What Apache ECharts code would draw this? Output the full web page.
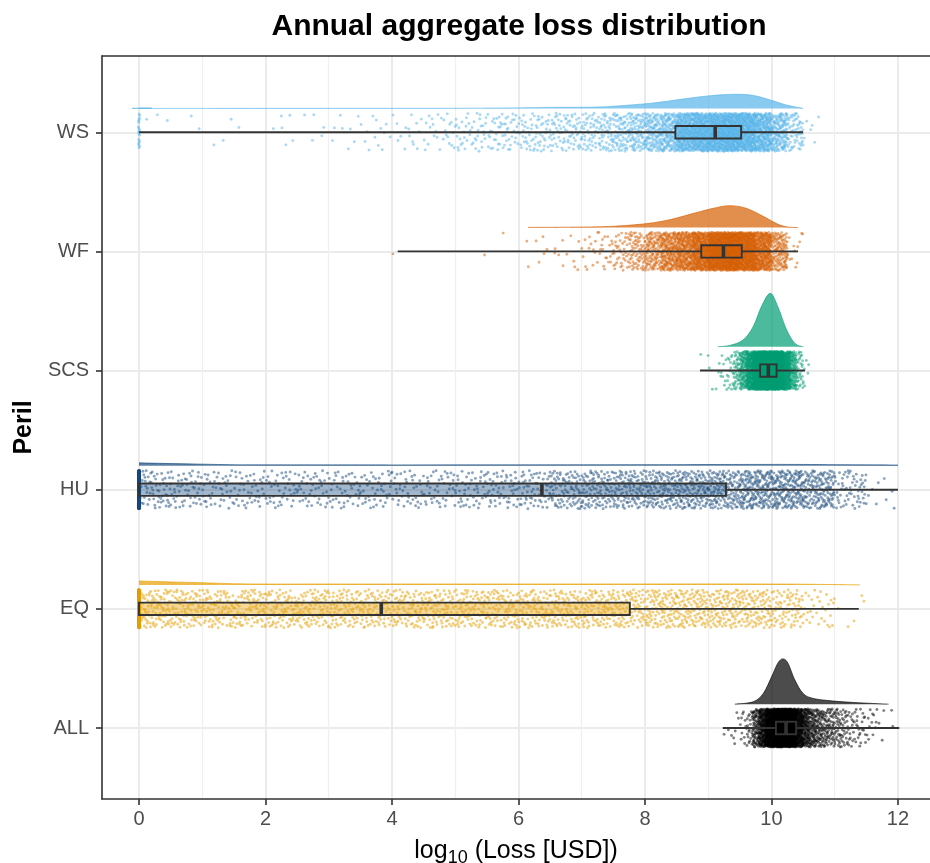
<!DOCTYPE html>
<html>
<head>
<meta charset="utf-8">
<script src="https://cdn.jsdelivr.net/npm/echarts@6/dist/echarts.min.js"></script>
<style>
  html, body { margin: 0; padding: 0; background: #ffffff; }
  #chart { width: 930px; height: 863px; }
</style>
</head>
<body>
<div id="chart"></div>
<script>
// Perils, bottom to top on the y axis
const perils = ['ALL', 'EQ', 'HU', 'SCS', 'WF', 'WS'];
const perilColors = ['#000000', '#E69F00', '#174A7C', '#009E73', '#D55E00', '#56B4E9'];

// x axis ticks (log10 USD)
const xTicks = [0, 2, 4, 6, 8, 10, 12];
const xMinorTicks = [1, 3, 5, 7, 9, 11];

// Box plot summaries per peril (log10 USD)
const boxMin = [9.23, 0, 0, 8.87, 4.09, 0];
const boxQ1 = [10.07, 0, 0, 9.82, 8.89, 8.48];
const boxMedian = [10.23, 3.83, 6.37, 9.95, 9.24, 9.11];
const boxQ3 = [10.39, 7.76, 9.28, 10.08, 9.53, 9.52];
const boxMax = [12.02, 11.38, 12.0, 10.53, 10.42, 10.5];

// Simulated years per peril: years with zero loss, then histogram of log10 losses
const zeroLossYears = [0, 660, 720, 0, 0, 20];
const binStart = [9.2, 0, 0, 8.8, 4.0, 0];
const binWidth = [0.1, 0.5, 0.5, 0.1, 0.25, 0.25];
const allCounts = [1, 2, 5, 10, 20, 70, 150, 260, 390, 500, 460, 320, 190, 120, 80, 60, 48, 40, 32, 25, 18, 14, 10, 7, 5, 3, 1, 1];
const eqCounts = [95, 85, 82, 80, 80, 80, 80, 80, 80, 82, 82, 84, 85, 86, 88, 90, 105, 108, 105, 98, 75, 30, 5];
const huCounts = [60, 48, 40, 40, 40, 40, 40, 40, 40, 40, 45, 50, 60, 90, 100, 110, 120, 130, 140, 180, 180, 150, 60, 8];
const scsCounts = [1, 1, 2, 4, 8, 16, 40, 90, 180, 300, 440, 510, 460, 340, 200, 90, 30, 6];
const wfCounts = [1, 0, 0, 0, 0, 1, 0, 1, 2, 5, 5, 7, 12, 20, 38, 70, 115, 185, 240, 330, 440, 500, 430, 300, 130, 12];
const wsCounts = [1, 2, 0, 2, 1, 2, 1, 0, 2, 4, 2, 3, 4, 4, 6, 7, 6, 9, 12, 15,
                  20, 22, 25, 27, 30, 33, 36, 40, 45, 55, 70, 90, 120, 155,
                  260, 300, 330, 360, 330, 260, 150, 60, 6];
const binCounts = [allCounts, eqCounts, huCounts, scsCounts, wfCounts, wsCounts];

// Half-violin density outlines (density per log10 unit)
const allDensX = [9.42, 9.71, 9.87, 10.0, 10.1, 10.18, 10.26, 10.37, 10.5, 10.66, 10.98, 11.3, 11.6, 11.85];
const allDens  = [0, 0.1, 0.45, 1.14, 1.72, 1.9, 1.72, 1.01, 0.45, 0.24, 0.13, 0.07, 0.03, 0];
const eqDensX = [0, 0.5, 1.0, 1.7, 3, 5, 7, 9, 10, 10.5, 11, 11.4];
const eqDens  = [0.17, 0.13, 0.097, 0.046, 0.042, 0.042, 0.042, 0.046, 0.042, 0.034, 0.017, 0];
const huDensX = [0, 0.5, 1.0, 1.5, 2, 4, 6, 8, 9.5, 10.5, 11.5, 12.0];
const huDens  = [0.126, 0.097, 0.071, 0.046, 0.042, 0.038, 0.042, 0.05, 0.059, 0.059, 0.042, 0.035];
const scsDensX = [9.15, 9.34, 9.55, 9.71, 9.84, 9.98, 10.1, 10.24, 10.37, 10.5];
const scsDens  = [0, 0.055, 0.28, 0.84, 1.68, 2.24, 1.68, 0.70, 0.14, 0];
const wfDensX = [6.15, 7.0, 7.5, 8.03, 8.4, 8.8, 9.08, 9.34, 9.6, 9.87, 10.08, 10.24, 10.42];
const wfDens  = [0.006, 0.021, 0.055, 0.168, 0.336, 0.62, 0.81, 0.92, 0.81, 0.47, 0.168, 0.03, 0];
const wsDensX = [0, 0.2, 0.21, 4.6, 5.7, 6.5, 7.3, 8.1, 8.56, 8.98, 9.39, 9.7, 10.0, 10.24, 10.5];
const wsDens  = [0.017, 0.013, 0, 0.006, 0.017, 0.042, 0.063, 0.22, 0.38, 0.52, 0.59, 0.55, 0.34, 0.14, 0];
const densX = [allDensX, eqDensX, huDensX, scsDensX, wfDensX, wsDensX];
const dens = [allDens, eqDens, huDens, scsDens, wfDens, wsDens];

// Layout constants (y axis units)
const JITTER = 0.16;
const BOX_HALF = 0.052;
const VIOLIN_BASE = 0.2;
const VIOLIN_SCALE = 0.2;
const FONT = "'Liberation Sans', Arial, sans-serif";

function rgba(hex, a) {
  const n = parseInt(hex.slice(1), 16);
  return 'rgba(' + ((n >> 16) & 255) + ',' + ((n >> 8) & 255) + ',' + (n & 255) + ',' + a + ')';
}
function frac(v) { return v - Math.floor(v); }
// Radical inverse, used to spread the dots of a bin evenly over its cell
function radicalInverse(i, base) {
  let f = 1, r = 0;
  while (i > 0) { f /= base; r += f * (i % base); i = Math.floor(i / base); }
  return r;
}

// One item per histogram bin: [lo, hi, count, category, peril index]
const pointBins = [];
perils.forEach(function (name, p) {
  if (zeroLossYears[p] > 0) pointBins.push([0, 0, zeroLossYears[p], p + 1, p]);
  binCounts[p].forEach(function (n, i) {
    if (n > 0) {
      const lo = binStart[p] + i * binWidth[p];
      pointBins.push([lo, lo + binWidth[p], n, p + 1, p]);
    }
  });
});

const violinItems = perils.map(function (name, p) { return [p + 1, p]; });
const boxItems = perils.map(function (name, p) {
  return [p + 1, boxMin[p], boxQ1[p], boxMedian[p], boxQ3[p], boxMax[p], p];
});

// Jittered points: each bin spreads its years evenly over its cell
function renderPoints(params, api) {
  const lo = api.value(0), hi = api.value(1), n = api.value(2);
  const cat = api.value(3), p = api.value(4);
  const color = perilColors[p];
  const children = [];
  const shiftX = frac(params.dataIndex * 0.6180339887);
  const shiftY = frac(params.dataIndex * 0.4142135623);
  for (let k = 0; k < n; k++) {
    const t = k + 1 + params.dataIndex * 7;
    const fx = frac(radicalInverse(t, 2) + shiftX);
    const fy = frac(radicalInverse(t, 3) + shiftY);
    const pt = api.coord([lo + fx * (hi - lo), cat + (2 * fy - 1) * JITTER]);
    if (hi === lo) pt[0] += (2 * fx - 1) * 0.6;
    children.push({
      type: 'circle',
      shape: { cx: pt[0], cy: pt[1], r: 1.45 },
      style: { fill: color, opacity: 0.5 }
    });
  }
  return { type: 'group', silent: true, children: children };
}

// Half violin above each category line
function renderViolin(params, api) {
  const cat = api.value(0), p = api.value(1);
  const xs = densX[p], ds = dens[p];
  const color = perilColors[p];
  const baseY = api.coord([xs[0], cat + VIOLIN_BASE])[1];
  const pts = xs.map(function (x, i) { return api.coord([x, cat + VIOLIN_BASE + ds[i] * VIOLIN_SCALE]); });
  let area = 'M' + pts[0][0] + ',' + baseY + 'L' + pts[0][0] + ',' + pts[0][1];
  let top = 'M' + pts[0][0] + ',' + pts[0][1];
  for (let i = 0; i < pts.length - 1; i++) {
    const p0 = pts[i - 1] || pts[i], p1 = pts[i], p2 = pts[i + 1], p3 = pts[i + 2] || p2;
    const c1 = [p1[0] + (p2[0] - p0[0]) / 6, Math.min(baseY, p1[1] + (p2[1] - p0[1]) / 6)];
    const c2 = [p2[0] - (p3[0] - p1[0]) / 6, Math.min(baseY, p2[1] - (p3[1] - p1[1]) / 6)];
    const seg = 'C' + c1[0] + ',' + c1[1] + ' ' + c2[0] + ',' + c2[1] + ' ' + p2[0] + ',' + p2[1];
    area += seg;
    if (ds[i] === 0 && ds[i + 1] === 0) top += 'M' + p2[0] + ',' + p2[1];
    else top += seg;
  }
  const last = pts[pts.length - 1];
  area += 'L' + last[0] + ',' + baseY + 'Z';
  return {
    type: 'group',
    silent: true,
    children: [
      { type: 'path', shape: { pathData: area }, style: { fill: rgba(color, 0.7), stroke: null } },
      { type: 'path', shape: { pathData: top }, style: { fill: null, stroke: rgba(color, 0.7), lineWidth: 0.9 } }
    ]
  };
}

// Box with whiskers
function renderBox(params, api) {
  const cat = api.value(0);
  const vMin = api.value(1), q1 = api.value(2), med = api.value(3), q3 = api.value(4), vMax = api.value(5);
  const p = api.value(6);
  const color = perilColors[p];
  const c = api.coord([q1, cat]);
  const top = api.coord([q1, cat + BOX_HALF])[1];
  const bot = api.coord([q1, cat - BOX_HALF])[1];
  const xMin = api.coord([vMin, cat])[0];
  const xQ1 = c[0];
  const xMed = api.coord([med, cat])[0];
  const xQ3 = api.coord([q3, cat])[0];
  const xMax = api.coord([vMax, cat])[0];
  const stroke = '#333333';
  const children = [];
  if (q1 > vMin) children.push({ type: 'line', shape: { x1: xMin, y1: c[1], x2: xQ1, y2: c[1] }, style: { stroke: stroke, lineWidth: 1.9 } });
  if (vMax > q3) children.push({ type: 'line', shape: { x1: xQ3, y1: c[1], x2: xMax, y2: c[1] }, style: { stroke: stroke, lineWidth: 1.9 } });
  children.push({ type: 'rect', shape: { x: xQ1, y: top, width: xQ3 - xQ1, height: bot - top },
    style: { fill: rgba(color, 0.4), stroke: stroke, lineWidth: 1.9 } });
  children.push({ type: 'line', shape: { x1: xMed, y1: top, x2: xMed, y2: bot }, style: { stroke: stroke, lineWidth: 3.6 } });
  return { type: 'group', silent: true, children: children };
}

const chart = echarts.init(document.getElementById('chart'), null, { renderer: 'canvas' });
chart.setOption({
  animation: false,
  backgroundColor: '#ffffff',
  title: {
    text: 'Annual aggregate loss distribution',
    left: 519,
    top: 12,
    textAlign: 'center',
    padding: 0,
    textStyle: { fontSize: 30, fontWeight: 'bold', color: '#000000', fontFamily: FONT }
  },
  grid: { left: 102, right: 0, top: 56, bottom: 64, containLabel: false, outerBoundsMode: 'none' },
  xAxis: [
    {
      type: 'value', min: -0.585, max: 12.506, position: 'bottom',
      axisLine: { show: true, onZero: false, lineStyle: { color: '#333333', width: 1.6 } },
      axisTick: { show: true, customValues: xTicks, length: 6, lineStyle: { color: '#333333', width: 1.6 } },
      axisLabel: { customValues: xTicks, color: '#4D4D4D', fontSize: 20, fontFamily: FONT, margin: 10 },
      splitLine: { show: true, lineStyle: { color: '#EBEBEB', width: 2 } },
      name: '{a|log}{s|10}{a| (Loss [USD])}',
      nameLocation: 'middle',
      nameGap: 36,
      nameTextStyle: {
        color: '#000000', fontFamily: FONT,
        rich: {
          a: { fontSize: 25, lineHeight: 32, color: '#000000', fontFamily: FONT },
          s: { fontSize: 18, lineHeight: 18, verticalAlign: 'bottom', color: '#000000', fontFamily: FONT }
        }
      }
    },
    {
      type: 'value', min: -0.585, max: 12.506, position: 'top',
      axisLine: { show: true, onZero: false, lineStyle: { color: '#333333', width: 1.6 } },
      axisTick: { show: false, customValues: xMinorTicks },
      axisLabel: { show: false, customValues: xMinorTicks },
      splitLine: { show: true, lineStyle: { color: '#EFEFEF', width: 1.3 } }
    }
  ],
  yAxis: {
    type: 'value', min: 0.404, max: 6.64,
    axisLine: { show: true, onZero: false, lineStyle: { color: '#333333', width: 1.6 } },
    axisTick: { show: true, customValues: [1, 2, 3, 4, 5, 6], length: 6, lineStyle: { color: '#333333', width: 1.6 } },
    axisLabel: {
      customValues: [1, 2, 3, 4, 5, 6],
      formatter: function (v) { return perils[Math.round(v) - 1]; },
      color: '#4D4D4D', fontSize: 20, fontFamily: FONT, margin: 13
    },
    splitLine: { show: true, lineStyle: { color: '#EBEBEB', width: 2 } },
    name: 'Peril',
    nameLocation: 'middle',
    nameRotate: 90,
    nameGap: 53,
    nameTextStyle: { fontSize: 25, fontWeight: 'bold', color: '#000000', fontFamily: FONT }
  },
  series: [
    {
      type: 'custom', name: 'density', renderItem: renderViolin, data: violinItems,
      xAxisIndex: 0, yAxisIndex: 0, clip: true, z: 2, silent: true
    },
    {
      type: 'custom', name: 'years', renderItem: renderPoints, data: pointBins,
      xAxisIndex: 0, yAxisIndex: 0, clip: true, z: 3, silent: true
    },
    {
      type: 'custom', name: 'summary', renderItem: renderBox, data: boxItems,
      xAxisIndex: 0, yAxisIndex: 0, clip: true, z: 4, silent: true
    }
  ]
});
</script>
</body>
</html>
